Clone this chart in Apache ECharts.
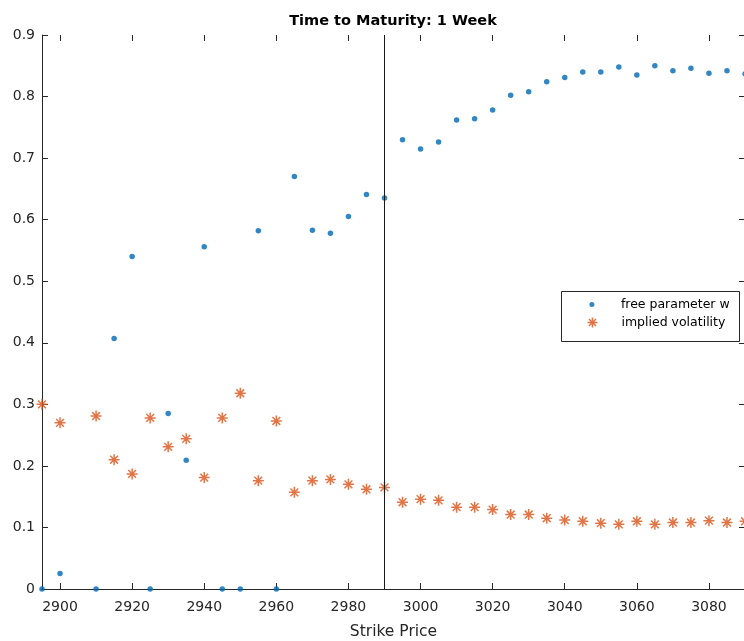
<!DOCTYPE html>
<html>
<head>
<meta charset="utf-8">
<script src="https://cdn.jsdelivr.net/npm/echarts@6/dist/echarts.min.js"></script>
<style>
html,body{margin:0;padding:0;background:#fff;}
#chart{width:744px;height:641px;}
</style>
</head>
<body>
<div id="chart"></div>
<script>
var strikes = [2895,2900,2910,2915,2920,2925,2930,2935,2940,2945,2950,2955,2960,2965,2970,2975,2980,2985,2990,2995,3000,3005,3010,3015,3020,3025,3030,3035,3040,3045,3050,3055,3060,3065,3070,3075,3080,3085,3090];
var freeW = [0,0.025,0,0.407,0.540,0,0.285,0.209,0.556,0,0,0.582,0,0.670,0.583,0.578,0.605,0.641,0.635,0.730,0.715,0.726,0.762,0.764,0.778,0.802,0.808,0.824,0.831,0.840,0.840,0.848,0.835,0.850,0.842,0.846,0.838,0.842,0.837];
var impliedVol = [0.300,0.270,0.281,0.210,0.187,0.278,0.231,0.244,0.181,0.278,0.318,0.176,0.273,0.157,0.176,0.178,0.170,0.162,0.165,0.141,0.146,0.144,0.133,0.133,0.129,0.121,0.121,0.115,0.112,0.110,0.107,0.105,0.110,0.105,0.108,0.108,0.111,0.108,0.110];
var xTicks = [2900,2920,2940,2960,2980,3000,3020,3040,3060,3080];
var xMin = 2895, xMax = 3090;
var xTickStart = 2900, xTickStep = 20;
var yMin = 0, yMax = 0.9, yStep = 0.1;
var spotStrike = 2990;
var titleText = 'Time to Maturity: 1 Week';
var xLabel = 'Strike Price';
var seriesNames = ['free parameter w', 'implied volatility'];

var blue = '#0068B0', orange = '#D95319', axisCol = '#262626';
var FONT = 'DejaVu Sans';
var asterisk = 'path://M5,0L5,10M0,5L10,5M1.46,1.46L8.54,8.54M1.46,8.54L8.54,1.46';

function pairs(xs, ys){ return xs.map(function(x,i){ return [x, ys[i]]; }); }

// plot box geometry
var gLeft = 42, gTop = 35, gWidth = 703, gHeight = 554;
var pxPerUnit = gWidth / (xMax - xMin);
var tickGridLeft = gLeft + (xTickStart - xMin) * pxPerUnit;
var tickGridWidth = (xMax - xTickStart) * pxPerUnit;

var chart = echarts.init(document.getElementById('chart'), null, {renderer:'canvas'});
var axisLine = {show:true, lineStyle:{color:axisCol, width:1}};
var tickStyle = {show:true, inside:true, length:6, lineStyle:{color:axisCol, width:1}};
var option = {
  backgroundColor:'#fff',
  animation:false,
  title:{text:titleText, left:388, top:9, textAlign:'center',
    textStyle:{fontFamily:FONT, fontSize:14.5, fontWeight:'bold', color:'#000'}},
  grid:[
    {left:gLeft, top:gTop, width:gWidth, height:gHeight, containLabel:false, outerBoundsMode:'none'},
    {left:tickGridLeft, top:gTop, width:tickGridWidth, height:gHeight, containLabel:false, outerBoundsMode:'none'}
  ],
  legend:[
    {data:[seriesNames[0]], left:589.4, top:298, padding:0, icon:'circle', itemWidth:48, itemHeight:5,
     textStyle:{fontFamily:FONT, fontSize:12.5, color:'#000'}, selectedMode:false},
    {data:[seriesNames[1]], left:586.7, top:316, padding:0, icon:asterisk, itemWidth:48, itemHeight:10,
     itemStyle:{color:'rgba(0,0,0,0)', borderColor:orange, borderWidth:1.5},
     textStyle:{fontFamily:FONT, fontSize:12.5, color:'#000'}, selectedMode:false}
  ],
  graphic:[{type:'rect', shape:{x:561.5, y:291.5, width:178, height:50}, z:3,
    style:{fill:'#fff', stroke:axisCol, lineWidth:1}}],
  xAxis:[
    {type:'value', gridIndex:0, min:xMin, max:xMax, position:'bottom', axisLine:axisLine,
     axisTick:{show:false},
     axisLabel:{customValues:xTicks, margin:11, fontFamily:FONT, fontSize:14, color:axisCol,
       formatter:function(v){ return String(v); }},
     splitLine:{show:false},
     name:xLabel, nameLocation:'middle', nameGap:35,
     nameTextStyle:{fontFamily:FONT, fontSize:15.5, color:axisCol}},
    {type:'value', gridIndex:0, min:xMin, max:xMax, position:'top', axisLine:axisLine,
     axisTick:{show:false}, axisLabel:{show:false}, splitLine:{show:false}},
    {type:'value', gridIndex:1, min:xTickStart, max:xMax, interval:xTickStep, position:'bottom',
     axisLine:{show:false}, axisTick:tickStyle, axisLabel:{show:false}, splitLine:{show:false}},
    {type:'value', gridIndex:1, min:xTickStart, max:xMax, interval:xTickStep, position:'top',
     axisLine:{show:false}, axisTick:tickStyle, axisLabel:{show:false}, splitLine:{show:false}}
  ],
  yAxis:[
    {type:'value', gridIndex:0, min:yMin, max:yMax, interval:yStep, position:'left', axisLine:axisLine,
     axisTick:tickStyle,
     axisLabel:{margin:7, fontFamily:FONT, fontSize:14, color:axisCol,
       formatter:function(v){ return String(Math.round(v*10)/10); }},
     splitLine:{show:false}},
    {type:'value', gridIndex:0, min:yMin, max:yMax, interval:yStep, position:'right', axisLine:axisLine,
     axisTick:tickStyle, axisLabel:{show:false}, splitLine:{show:false}},
    {type:'value', gridIndex:1, min:yMin, max:yMax, show:false}
  ],
  series:[
    {name:seriesNames[0], type:'scatter', xAxisIndex:0, yAxisIndex:0, data:pairs(strikes, freeW),
     symbol:'circle', symbolSize:5.5, clip:false, itemStyle:{color:blue}, z:3,
     markLine:{silent:true, symbol:'none', label:{show:false},
       lineStyle:{color:'#1a1a1a', width:1, type:'solid'}, data:[{xAxis:spotStrike}]}},
    {name:seriesNames[1], type:'scatter', xAxisIndex:0, yAxisIndex:0, data:pairs(strikes, impliedVol),
     symbol:asterisk, symbolSize:11, clip:false, z:2,
     itemStyle:{color:'rgba(0,0,0,0)', borderColor:orange, borderWidth:1.5}}
  ]
};
chart.setOption(option);
</script>
</body>
</html>
